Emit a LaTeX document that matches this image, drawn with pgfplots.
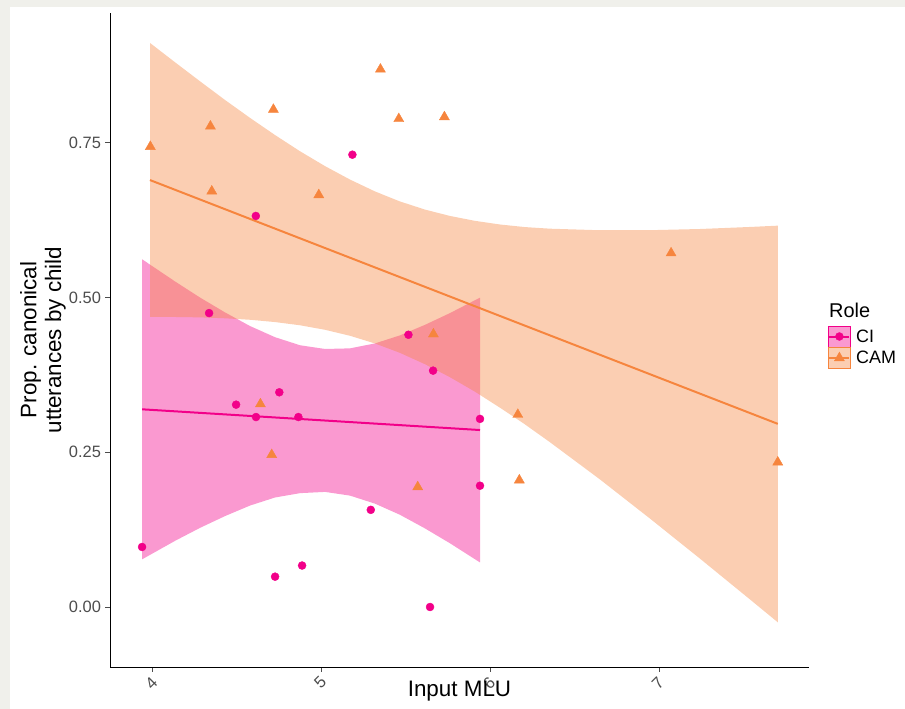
\documentclass[border=0pt]{standalone}
\usepackage{fontspec}
\setmainfont{Liberation Sans}
\usepackage{pgfplots}
\pgfplotsset{compat=1.18}

\definecolor{cipink}{RGB}{242,0,137}
\definecolor{camorange}{RGB}{246,133,62}
\definecolor{tickgray}{RGB}{77,77,77}
\definecolor{framegray}{RGB}{240,240,235}

\begin{document}
\begin{tikzpicture}
% page size and screenshot frame strips
\path (0bp,0bp) rectangle (905bp,-709bp);
\fill[framegray] (0bp,0bp) rectangle (905bp,-7bp);
\fill[framegray] (0bp,0bp) rectangle (10bp,-709bp);

\begin{axis}[
  at={(110bp,-667bp)}, anchor=south west,
  scale only axis,
  width=699bp, height=654bp,
  xmin=3.746, xmax=7.887,
  ymin=-0.097, ymax=0.96,
  axis lines*=left,
  axis line style={-, black, line width=0.9bp},
  tick align=outside,
  major tick length=4.5bp,
  tick style={tickgray, line width=0.9bp},
  xtick={4,5,6,7},
  xticklabels={4,5,6,7},
  ytick={0,0.25,0.5,0.75},
  yticklabels={0.00,0.25,0.50,0.75},
  ticklabel style={font=\fontsize{16.5}{18}\selectfont, text=tickgray},
  xticklabel style={rotate=45, anchor=center, xshift=-9bp, yshift=-7bp},
  yticklabel style={xshift=-1bp},
  xlabel={Input MLU},
  xlabel style={at={(axis description cs:0.5,-0.037)}, anchor=center, font=\fontsize{22.5}{25}\selectfont},
  ylabel={Prop. canonical\\utterances by child},
  ylabel style={at={(axis description cs:-0.0959,0.5)}, anchor=center, align=center, font=\fontsize{22.5}{25}\selectfont},
  legend style={draw=none, fill=none, at={(axis description cs:1,0.489)}, anchor=west,
    xshift=19bp, inner sep=0pt, row sep=0pt, font=\fontsize{18}{20}\selectfont,
    nodes={inner sep=1.5bp},
    /tikz/every odd column/.append style={column sep=4bp}},
  legend cell align=left,
]

% points (drawn first, bands lie over them)
\addplot[only marks, mark=*, mark size=4bp, color=cipink,
  legend image code/.code={
    \fill[cipink, fill opacity=0.4] (0bp,-10.5bp) rectangle (22bp,10.5bp);
    \draw[cipink, line width=2bp] (1bp,0bp) -- (21bp,0bp);
    \fill[cipink] (11bp,0bp) circle (4bp);}]
coordinates {
  (5.182,0.731) (4.610,0.632) (4.333,0.475) (5.514,0.440)
  (5.660,0.382) (4.749,0.347) (4.493,0.327) (4.611,0.307)
  (4.862,0.307) (5.938,0.304) (5.938,0.196) (5.291,0.157)
  (3.936,0.097) (4.884,0.067) (4.724,0.049) (5.642,0.000)
};
\addlegendentry{CI}

\addplot[only marks, mark=triangle*, mark size=5.8bp, color=camorange,
  legend image code/.code={
    \fill[camorange, fill opacity=0.4] (0bp,-10.5bp) rectangle (22bp,10.5bp);
    \draw[camorange, line width=2bp] (1bp,0bp) -- (21bp,0bp);
    \fill[camorange] (11bp,5.8bp) -- (6bp,-2.9bp) -- (16bp,-2.9bp) -- cycle;}]
coordinates {
  (3.985,0.744) (4.341,0.777) (4.349,0.672) (4.714,0.804)
  (4.983,0.666) (5.348,0.869) (5.457,0.789) (5.727,0.792)
  (7.070,0.572) (7.702,0.234) (6.162,0.311) (6.171,0.205)
  (5.662,0.441) (5.569,0.194) (4.637,0.328) (4.704,0.246)
};
\addlegendentry{CAM}

% CI confidence band (upper edge left to right, lower edge back) and fit
\addplot[forget plot, draw=none, fill=cipink, fill opacity=0.4]
coordinates {
  (3.936,0.562) (4.132,0.526) (4.280,0.500) (4.428,0.476) (4.576,0.454)
  (4.724,0.436) (4.872,0.423) (5.020,0.417) (5.168,0.418) (5.316,0.426)
  (5.464,0.439) (5.612,0.456) (5.760,0.475) (5.938,0.500)
  (5.938,0.072) (5.760,0.103) (5.612,0.127) (5.464,0.149) (5.316,0.167)
  (5.168,0.180) (5.020,0.186) (4.872,0.184) (4.724,0.177) (4.576,0.164)
  (4.428,0.147) (4.280,0.128) (4.132,0.107) (3.936,0.077)
} -- cycle;
\addplot[forget plot, cipink, line width=2bp]
coordinates {(3.936,0.3195) (5.938,0.286)};

% CAM confidence band and fit
\addplot[forget plot, draw=none, fill=camorange, fill opacity=0.4]
coordinates {
  (3.983,0.9116) (4.132,0.8802) (4.280,0.8495) (4.428,0.8193) (4.576,0.7904)
  (4.724,0.7627) (4.872,0.7365) (5.020,0.7125) (5.168,0.6908) (5.316,0.6716)
  (5.464,0.6554) (5.612,0.6423) (5.760,0.6320) (5.908,0.6241) (6.056,0.6182)
  (6.205,0.6140) (6.353,0.6114) (6.649,0.6089) (6.945,0.6090) (7.241,0.6109)
  (7.537,0.6142) (7.702,0.6163)
  (7.702,-0.0247) (7.537,0.0123) (7.241,0.0782) (6.945,0.1429) (6.649,0.2061)
  (6.353,0.2662) (6.205,0.2950) (6.056,0.3221) (5.908,0.3480) (5.760,0.3714)
  (5.612,0.3924) (5.464,0.4107) (5.316,0.4259) (5.168,0.4383) (5.020,0.4480)
  (4.872,0.4553) (4.724,0.4605) (4.576,0.4642) (4.428,0.4666) (4.280,0.4681)
  (4.132,0.4687) (3.983,0.4687)
} -- cycle;
\addplot[forget plot, camorange, line width=2bp]
coordinates {(3.983,0.690) (7.702,0.296)};

\end{axis}

\node[anchor=west, font=\fontsize{20}{22}\selectfont, inner sep=0pt] at (829bp,-310bp) {Role};
\end{tikzpicture}
\end{document}
